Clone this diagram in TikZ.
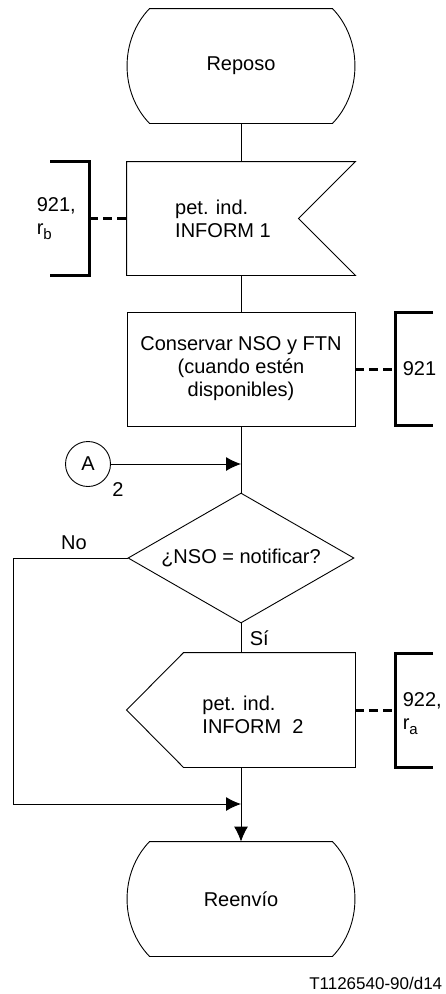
\documentclass[tikz,border=0pt]{standalone}
\usepackage{fontspec}
\setmainfont{Liberation Sans}
\usetikzlibrary{arrows.meta,shapes.geometric}
\newcommand\subi[1]{\raisebox{-5pt}{\fontsize{15}{15}\selectfont #1}}
\begin{document}
\begin{tikzpicture}[x=1pt,y=-1pt,>={Latex[length=15pt,width=14pt]},line width=0.9pt,
	font=\fontsize{20}{23}\selectfont,
	caja/.style={minimum width=228pt,minimum height=#1,inner sep=0pt},
	corchete/.style={line width=3pt},
	trazos/.style={line width=3pt,dash pattern=on 9pt off 5pt}]
\useasboundingbox (0,0) rectangle (446,994);
\def\estado#1{
	\draw ([xshift=23pt]#1.north west) -- ([xshift=-23pt]#1.north east)
	.. controls ([xshift=7pt,yshift=-31pt]#1.north east) and ([xshift=7pt,yshift=31pt]#1.south east) .. ([xshift=-23pt]#1.south east)
	-- ([xshift=23pt]#1.south west)
	.. controls ([xshift=-7pt,yshift=31pt]#1.south west) and ([xshift=-7pt,yshift=-31pt]#1.north west) .. cycle;
}
% estados
\node[caja=114pt] (reposo) at (241,66) {Reposo};
\estado{reposo}
\node[caja=114pt] (reenvio) at (241,899) {Reenvío};
\estado{reenvio}
% entrada
\node[caja=113pt] (inf1) at (241,218.5) {};
\draw (inf1.north west) -- (inf1.north east) -- ([xshift=-57pt]inf1.east) -- (inf1.south east) -- (inf1.south west) -- cycle;
\node[align=left] (inf1t) at (223,218.5) {pet. ind.\\INFORM 1};
% tarea
\node[caja=114pt,draw,align=center] (cons) at (241,369) {Conservar NSO y FTN\\(cuando estén\\disponibles)};
% decision
\node[diamond,draw,aspect=1.74,minimum width=226pt,minimum height=130pt,inner sep=0pt] (pregunta) at (241,558) {¿NSO = notificar?};
% salida
\node[caja=114pt] (inf2) at (241,710) {};
\draw ([xshift=57pt]inf2.north west) -- (inf2.north east) -- (inf2.south east) -- ([xshift=57pt]inf2.south west) -- (inf2.west) -- cycle;
\node[align=left] (inf2t) at (253,715) {pet. ind.\\INFORM\ \ 2};
% conector A
\node[circle,draw,minimum size=45pt,inner sep=0pt] (conA) at (88,464) {A};
\node (conAn) at (118,490) {2};
\coordinate (entA) at (241,464);
\coordinate (esq) at (13,804);
\coordinate (union) at (241,804);
% flujo
\draw (reposo) -- (inf1);
\draw (inf1) -- (cons);
\draw (cons) -- (pregunta);
\draw[->] (conA) -- (entA);
\draw (pregunta) -- node[right=5pt] (si) {Sí} (inf2);
\draw[->] (pregunta.west) -| (esq) -- (union);
\node (no) at (74,543) {No};
\draw[->] (inf2) -- (reenvio);
% referencias
\draw[corchete] (50,161) -| (89,275) -- (50,275);
\coordinate (c1) at (89,218.5);
\draw[trazos] (c1) -- (inf1.west);
\node[anchor=west,align=left] (ref1) at (33,219) {921,\\r\subi{b}};
\draw[corchete] (433,312) -| (395,425) -- (433,425);
\coordinate (c2) at (395,369);
\draw[trazos] (cons.east) -- (c2);
\node[anchor=west] (ref2) at (399,369) {921};
\draw[corchete] (433,653) -| (395,767) -- (433,767);
\coordinate (c3) at (395,710);
\draw[trazos] (inf2.east) -- (c3);
\node[anchor=west,align=left] (ref3) at (399,714) {922,\\r\subi{a}};
\node[anchor=east,font=\fontsize{17}{20}\selectfont] (marca) at (446,983) {T1126540-90/d14};
\end{tikzpicture}
\end{document}
